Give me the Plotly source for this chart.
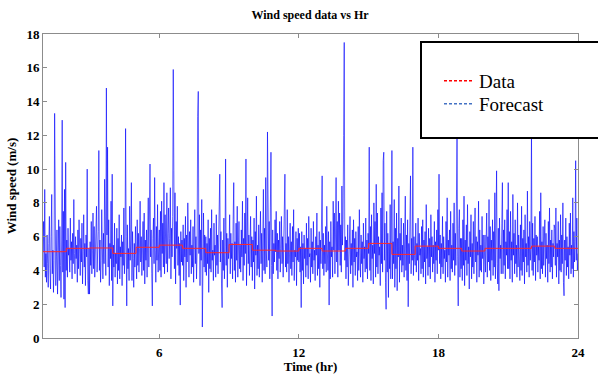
import plotly.graph_objects as go

# Hourly "Data" levels (step line), hours 1..23 intervals
hours = list(range(1, 25))
data_levels = [5.11, 5.31, 5.33, 5.01, 5.37, 5.50, 5.31, 5.05, 5.54, 5.20, 5.15, 5.31,
               5.15, 5.31, 5.60, 4.95, 5.44, 5.31, 5.15, 5.31, 5.31, 5.44, 5.31]

# Forecast values, hour by hour (hour 1 .. hour 23, then t=24)
h1 = [5.1,6.9,4.2,8.8,3.6,5.0,3.3,6.1,4.4,3.0,5.6,7.2,4.1,2.9,6.0,8.5,3.8,5.2,2.7,4.6,13.3,5.9,3.1,4.8,6.4,2.6,5.5,7.0,3.4,6.6,4.3,2.4,5.8,12.9,3.9,7.5,2.3,8.8,1.8,10.4]
h2 = [4.0,5.8,3.6,6.5,4.9,5.3,3.9,7.1,4.6,5.7,3.5,6.2,4.4,8.2,5.0,3.8,6.0,4.7,5.5,3.3,6.4,4.1,7.0,5.2,3.7,5.9,4.5,6.8,3.2,5.1,7.3,4.2,5.6,3.1,6.1,4.8,10.0,3.4,2.6,5.3]
h3 = [2.6,5.7,4.3,6.9,3.8,5.2,7.4,4.1,6.6,3.6,5.4,4.9,7.8,3.9,5.1,6.3,11.1,4.0,5.8,3.3,4.6,7.6,5.5,3.5,6.2,4.4,9.4,5.0,3.7,14.8,6.1,11.3,4.2,7.0,3.1,5.6,4.7,8.1,3.4,9.7]
h4 = [1.9,5.5,4.2,6.8,3.6,5.0,4.4,6.5,3.2,5.9,4.0,7.3,3.5,5.4,4.8,6.1,3.1,5.7,4.3,7.7,3.8,5.2,12.4,6.0,1.9,6.7,4.1,5.3,3.4,7.8,4.6,5.8,9.2,3.4,6.3,4.7,3.0,5.6,4.2,6.6]
h5 = [5.6,3.5,7.0,4.3,6.2,3.9,5.3,8.1,4.5,6.0,3.7,5.1,6.9,4.0,7.4,3.2,5.8,4.6,6.4,3.6,5.5,8.3,4.2,6.7,10.3,4.8,6.4,3.8,1.9,5.9,7.1,4.4,9.5,5.2,3.3,6.6,4.6,7.9,3.9,5.4]
h6 = [6.4,4.0,7.5,3.6,8.1,5.0,6.8,4.2,9.2,3.8,7.3,5.5,4.4,8.6,3.9,6.2,7.7,4.7,5.9,8.9,3.5,6.5,4.8,7.2,15.9,9.9,4.1,8.6,3.2,6.9,5.3,7.8,4.3,6.0,3.7,5.6,1.95,6.3,4.5,5.8]
h7 = [4.3,6.7,3.4,5.9,4.8,7.2,3.0,6.1,4.5,8.0,5.3,3.6,6.3,4.9,7.0,3.8,5.5,4.2,6.6,3.3,5.8,7.6,4.4,6.0,3.5,5.2,13.1,14.6,5.0,7.3,3.1,6.4,4.6,8.2,0.65,5.4,7.4,4.2,6.1,3.9]
h8 = [6.0,3.7,5.6,4.4,7.0,2.7,5.9,4.1,6.5,3.9,7.6,4.6,5.2,3.4,6.8,4.9,5.5,3.6,7.3,4.3,6.1,3.8,5.7,8.4,9.7,4.5,6.3,3.2,1.8,5.8,4.0,7.1,3.5,5.4,10.6,4.3,6.2,3.0,5.9,4.7]
h9 = [5.4,7.3,3.8,6.2,4.7,5.6,3.5,7.0,9.2,4.0,5.7,3.3,6.8,4.6,7.8,3.6,5.2,6.9,4.1,5.5,3.9,6.4,4.8,8.1,3.4,5.9,4.3,7.4,5.0,10.6,3.1,5.9,8.3,4.4,6.1,3.7,5.3,7.2,4.2,6.0]
h10 = [3.4,5.8,4.5,7.1,2.9,6.3,4.9,8.4,3.7,5.5,4.1,6.7,3.6,5.0,7.5,4.4,6.2,3.3,5.7,8.8,4.0,6.5,3.8,9.5,5.1,4.2,12.2,8.0,4.6,6.9,3.5,7.7,11.0,4.3,1.3,6.4,3.8,5.6,4.5,7.0]
h11 = [5.1,7.5,4.0,6.2,3.5,5.8,4.7,6.9,3.9,5.3,7.2,4.4,6.0,3.6,5.5,8.0,9.7,4.2,5.6,3.9,7.6,4.4,6.0,3.3,5.4,6.8,4.1,5.7,3.7,6.6,4.5,7.6,3.4,5.2,4.8,6.3,3.1,5.9,4.6,6.5]
h12 = [4.5,6.2,3.9,5.4,1.8,6.3,4.0,5.6,3.2,6.1,4.7,5.3,3.6,6.8,4.3,5.9,3.5,7.2,4.8,5.0,3.3,6.5,4.2,5.7,3.8,6.9,4.6,5.2,3.4,6.0,4.9,7.4,3.7,5.5,4.1,6.3,3.0,5.8,4.4,6.6]
h13 = [9.6,4.1,6.2,3.7,5.5,4.4,6.6,3.9,7.8,5.1,4.0,6.3,1.95,5.7,3.5,6.9,4.8,5.4,3.6,8.1,5.2,7.4,3.8,6.1,9.5,4.5,6.9,3.6,8.1,5.2,7.4,4.3,6.7,3.9,9.0,5.5,7.0,12.0,17.5,4.6]
h14 = [6.0,3.5,5.8,4.2,6.7,3.1,5.3,4.9,7.2,3.8,5.6,4.3,6.4,3.0,7.0,4.5,5.9,3.7,6.3,4.8,5.1,3.4,6.6,4.0,7.6,5.2,3.6,6.1,4.4,5.7,3.3,6.8,4.7,5.4,3.9,7.1,4.1,5.8,3.5,6.2]
h15 = [5.0,11.3,4.0,6.6,3.4,7.3,4.7,5.5,3.2,8.0,5.0,6.9,3.6,9.1,4.2,7.4,3.8,6.0,4.9,5.4,3.1,7.7,4.4,8.6,3.9,10.5,11.0,4.6,6.8,3.3,1.7,7.5,3.9,6.2,2.4,5.6,4.1,7.9,3.5,5.8]
h16 = [11.1,3.5,5.7,4.4,8.2,3.0,6.5,4.1,7.4,2.8,5.9,4.8,9.0,3.3,6.2,4.6,7.1,3.9,5.5,4.3,6.8,3.6,5.2,8.4,4.0,6.1,3.4,7.0,1.85,5.6,4.4,6.3,9.6,3.8,5.9,4.6,11.3,3.7,6.0,4.9]
h17 = [4.3,6.8,3.9,5.6,4.6,7.1,3.4,6.2,4.9,5.3,3.8,6.6,4.1,7.0,3.6,5.8,4.5,6.3,3.2,7.9,4.7,5.4,3.7,6.5,4.2,5.9,3.5,7.3,4.8,6.0,3.9,5.5,4.4,6.9,3.3,5.7,4.6,6.4,3.8,7.6]
h18 = [5.2,9.7,4.4,6.1,3.5,5.6,4.2,7.2,3.8,6.0,4.7,5.2,3.3,6.9,4.5,8.3,3.6,5.8,4.9,6.4,3.4,7.5,4.1,5.5,3.9,6.8,4.6,8.0,3.7,6.2,4.3,7.1,12.2,4.8,1.9,6.5,7.6,3.6,5.9,4.1]
h19 = [5.9,3.4,7.0,4.3,8.4,3.1,5.8,4.6,6.7,3.7,7.9,4.4,5.4,2.9,6.3,4.8,7.3,3.5,5.6,4.2,6.9,3.8,5.1,7.7,4.5,6.0,3.3,5.7,4.9,8.1,3.6,6.4,4.0,5.5,3.9,7.2,4.7,6.1,3.2,5.3]
h20 = [6.1,3.9,5.2,7.4,3.6,6.0,4.5,8.2,4.0,6.6,3.4,5.8,4.6,7.0,3.7,6.3,4.2,8.6,3.5,5.9,9.9,4.4,3.2,6.5,2.8,7.1,4.7,5.5,3.8,6.8,9.2,3.8,6.4,4.3,7.0,3.5,5.7,4.9,7.6,4.1]
h21 = [9.2,4.1,6.3,3.5,7.5,4.6,5.7,3.3,8.5,4.9,6.2,3.8,7.0,4.4,5.5,3.6,8.0,4.2,6.1,4.8,3.4,6.7,4.0,7.8,3.7,5.9,4.5,6.4,3.2,7.3,4.8,5.6,3.9,8.7,4.3,6.0,3.6,6.9,4.6,5.4]
h22 = [12.3,4.0,6.8,3.7,5.9,4.5,7.2,3.4,6.1,4.9,6.0,3.9,5.4,4.6,7.5,3.5,8.6,4.1,5.7,3.8,6.6,4.3,5.2,7.0,3.6,6.2,4.7,5.5,3.3,6.9,4.4,7.7,3.9,5.8,4.2,6.4,3.5,5.6,4.8,6.7]
h23 = [6.5,4.3,7.7,3.6,5.6,4.8,6.9,3.2,5.8,4.0,7.3,3.9,6.1,4.4,8.0,3.3,2.5,5.8,4.6,7.1,3.7,6.0,4.2,5.4,3.5,6.8,4.9,7.4,3.8,5.5,4.1,8.3,3.6,6.3,4.5,5.7,10.5,4.6,7.1,4.0]
h24 = [5.0]

x_ticks = [6, 12, 18, 24]
y_ticks = list(range(0, 19, 2))

hour_blocks = [h1, h2, h3, h4, h5, h6, h7, h8, h9, h10, h11, h12, h13, h14, h15,
               h16, h17, h18, h19, h20, h21, h22, h23, h24]
forecast_t, forecast = [], []
for k, block in enumerate(hour_blocks):
    n = len(block)
    for i, v in enumerate(block):
        forecast_t.append(1 + k + i / n)
        forecast.append(v)

data_x = hours
data_y = data_levels + [data_levels[-1]]

SERIF = "Liberation Serif, Times New Roman, serif"

fig = go.Figure()
fig.add_trace(go.Scatter(x=forecast_t, y=forecast, mode="lines",
                         line=dict(color="rgba(0,0,255,0.62)", width=1),
                         showlegend=False, hoverinfo="skip"))
fig.add_trace(go.Scatter(x=data_x, y=data_y, mode="lines", line_shape="hv",
                         line=dict(color="rgb(255,40,40)", width=1),
                         showlegend=False, hoverinfo="skip"))
# legend entries (dashed samples), each in its own legend box for exact spacing
fig.add_trace(go.Scatter(x=[None], y=[None], mode="lines", name="Data", legend="legend",
                         line=dict(color="red", width=1.5, dash="3px,2px")))
fig.add_trace(go.Scatter(x=[None], y=[None], mode="lines", name="Forecast", legend="legend2",
                         line=dict(color="rgb(68,114,196)", width=1.5, dash="3px,2px")))

L, R, T, B = 43, 20, 34, 36
W, H = 598, 374
pw = W - L - R
ph = H - T - B

def px_x(p):
    return (p - L) / pw

def px_y(p):
    return (H - B - p) / ph

fig.add_shape(type="rect", xref="paper", yref="paper",
              x0=px_x(421), x1=px_x(602), y0=px_y(138), y1=px_y(42),
              fillcolor="white", line=dict(color="black", width=2), layer="above")

axis_common = dict(showgrid=False, zeroline=False, showline=True, linecolor="#8c8c8c",
                   linewidth=1, mirror="ticks", ticks="inside", ticklen=4,
                   tickcolor="#8c8c8c", automargin=False,
                   tickfont=dict(family=SERIF, size=13, color="black", weight="bold"))

legend_common = dict(xanchor="left", yanchor="top", bgcolor="rgba(0,0,0,0)", borderwidth=0,
                     font=dict(family=SERIF, size=19, color="black"))

fig.update_layout(
    width=W, height=H,
    margin=dict(l=L, r=R, t=T, b=B, autoexpand=False),
    paper_bgcolor="white", plot_bgcolor="white",
    title=dict(text="Wind speed data vs Hr", x=310 / W, xanchor="center",
               y=1 - 15 / H, yanchor="middle",
               font=dict(family=SERIF, size=12, color="black", weight="bold")),
    xaxis=dict(range=[1, 24], tickvals=x_ticks, ticktext=[str(v) for v in x_ticks],
               ticklabelstandoff=2,
               title=dict(text="Time (hr)", standoff=9,
                          font=dict(family=SERIF, size=13, color="black", weight="bold")),
               **axis_common),
    yaxis=dict(range=[0, 18], tickvals=y_ticks, ticktext=[str(v) for v in y_ticks],
               title=dict(text="Wind speed (m/s)", standoff=6,
                          font=dict(family=SERIF, size=13, color="black", weight="bold")),
               **axis_common),
    legend=dict(x=px_x(439), y=px_y(62), **legend_common),
    legend2=dict(x=px_x(439), y=px_y(85), **legend_common),
    showlegend=True,
)

fig.write_html("out.html")
